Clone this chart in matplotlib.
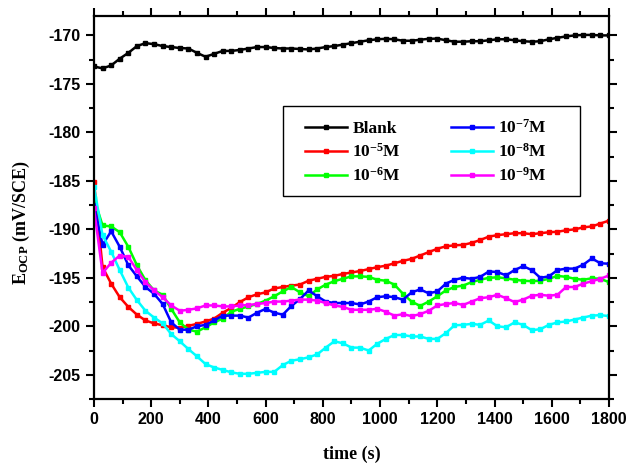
import numpy as np
import matplotlib
matplotlib.use('Agg')
import matplotlib.pyplot as plt
from matplotlib.patches import Rectangle

plt.rcParams['axes.unicode_minus'] = False
plt.rcParams['mathtext.fontset'] = 'custom'
plt.rcParams['mathtext.rm'] = 'Liberation Serif'
plt.rcParams['mathtext.bf'] = 'Liberation Serif:bold'

# sampling time (s), one point every 30 s
time = np.arange(0, 1801, 30)

blank = [-173.2, -173.4, -173.1, -172.4, -171.8, -171.1, -170.8, -170.9, -171.1, -171.2,
         -171.3, -171.35, -171.8, -172.2, -171.9, -171.6, -171.6, -171.5, -171.35, -171.2,
         -171.2, -171.3, -171.35, -171.35, -171.4, -171.45, -171.35, -171.2, -171.1, -170.95,
         -170.8, -170.65, -170.5, -170.4, -170.35, -170.4, -170.55, -170.55, -170.45, -170.35,
         -170.33, -170.5, -170.65, -170.65, -170.6, -170.6, -170.5, -170.4, -170.4, -170.5,
         -170.6, -170.65, -170.6, -170.4, -170.25, -170.1, -170.0, -169.95, -169.95, -170.0,
         -170.0]

c_1e5 = [-185.1, -193.9, -195.6, -197.0, -198.0, -198.8, -199.4, -199.7, -199.9, -200.1,
         -200.15, -199.95, -199.75, -199.5, -199.2, -198.6, -198.1, -197.5, -197.0, -196.7,
         -196.5, -196.1, -195.95, -195.8, -195.7, -195.3, -195.1, -194.9, -194.8, -194.6,
         -194.45, -194.3, -194.1, -193.9, -193.75, -193.5, -193.25, -193.05, -192.7, -192.35,
         -192.0, -191.75, -191.65, -191.6, -191.4, -191.1, -190.75, -190.6, -190.5, -190.4,
         -190.4, -190.5, -190.4, -190.3, -190.25, -190.1, -190.0, -189.8, -189.7, -189.4,
         -189.1]

c_1e6 = [-186.8, -189.6, -189.7, -190.3, -191.8, -193.7, -195.25, -196.3, -196.75, -198.2,
         -199.6, -200.35, -200.55, -200.1, -199.6, -199.2, -198.5, -198.2, -197.95, -197.7,
         -197.35, -196.9, -196.4, -195.95, -196.5, -196.9, -196.2, -195.7, -195.35, -195.1,
         -194.85, -194.85, -194.9, -195.2, -195.3, -195.7, -196.65, -197.45, -197.9, -197.45,
         -196.9, -196.3, -195.95, -195.8, -195.45, -195.2, -195.0, -194.95, -195.05, -195.2,
         -195.3, -195.35, -195.3, -195.1, -194.8, -194.9, -195.1, -195.2, -195.05, -195.1,
         -195.45]

c_1e7 = [-187.5, -191.6, -190.2, -191.8, -193.7, -194.85, -195.95, -196.65, -197.7, -199.6,
         -200.35, -200.35, -200.0, -199.85, -199.4, -198.9, -198.9, -198.9, -199.1, -198.6,
         -198.2, -198.6, -198.8, -197.9, -197.2, -196.3, -196.9, -197.45, -197.6, -197.6,
         -197.6, -197.75, -197.45, -197.0, -196.9, -197.0, -197.25, -196.5, -196.2, -196.6,
         -196.4, -195.6, -195.2, -195.0, -195.1, -194.9, -194.35, -194.4, -194.75, -194.2,
         -193.8, -194.2, -195.0, -194.85, -194.2, -194.05, -194.05, -193.65, -193.0, -193.5,
         -193.55]

c_1e8 = [-185.6, -190.6, -192.3, -194.2, -196.0, -197.3, -198.4, -199.1, -199.7, -200.8,
         -201.55, -202.35, -203.1, -203.9, -204.25, -204.5, -204.75, -204.9, -204.9, -204.8,
         -204.7, -204.7, -204.0, -203.55, -203.4, -203.2, -202.9, -202.2, -201.55, -201.75,
         -202.2, -202.2, -202.5, -201.8, -201.3, -200.9, -200.9, -201.05, -201.05, -201.3,
         -201.3, -200.7, -199.9, -199.85, -199.75, -199.85, -199.4, -200.0, -200.1, -199.6,
         -199.85, -200.4, -200.3, -199.85, -199.6, -199.5, -199.3, -199.1, -198.9, -198.85,
         -198.95]

c_1e9 = [-187.85, -194.5, -193.45, -192.7, -192.85, -194.2, -195.45, -196.3, -197.0, -197.85,
         -198.4, -198.3, -198.15, -197.85, -197.85, -197.95, -197.95, -197.85, -197.8, -197.7,
         -197.6, -197.45, -197.45, -197.35, -197.25, -197.25, -197.35, -197.6, -197.85, -198.0,
         -198.3, -198.3, -198.3, -198.2, -198.5, -198.9, -198.75, -198.95, -198.75, -198.4,
         -197.85, -197.7, -197.6, -197.8, -197.45, -197.1, -197.0, -196.75, -197.1, -197.5,
         -197.25, -196.85, -196.75, -196.85, -196.75, -195.95, -195.95, -195.6, -195.35, -195.1,
         -194.75]

series = [blank, c_1e5, c_1e6, c_1e7, c_1e8, c_1e9]
labels = ['Blank', r'$\mathbf{10^{-5}M}$', r'$\mathbf{10^{-6}M}$',
          r'$\mathbf{10^{-7}M}$', r'$\mathbf{10^{-8}M}$', r'$\mathbf{10^{-9}M}$']
colors = ['#000000', '#ff0000', '#00ff00', '#0000ff', '#00ffff', '#ff00ff']

fig = plt.figure(figsize=(6.32, 4.63), dpi=100)
ax = fig.add_axes([0.1487, 0.1382, 0.8149, 0.8272])

for y, lab, col in zip(series, labels, colors):
    ax.plot(time, y, color=col, lw=1.8, marker='s', ms=3.5, label=lab)

ax.set_xlim(0, 1800)
ax.set_ylim(-207.5, -168)
ax.set_xticks(np.arange(0, 1801, 200))
ax.set_xticks(np.arange(0, 1801, 100), minor=True)
ax.set_yticks(np.arange(-205, -169, 5))
ax.set_yticks(np.arange(-207.5, -167.9, 2.5), minor=True)

for s in ax.spines.values():
    s.set_linewidth(1.6)
ax.tick_params(which='both', direction='out', top=True, right=True, width=1.5)
ax.tick_params(which='major', length=6)
ax.tick_params(which='minor', length=3.5)
for t in ax.get_xticklabels() + ax.get_yticklabels():
    t.set_fontfamily('Liberation Sans')
    t.set_fontweight('bold')
    t.set_fontsize(11.5)

ax.set_xlabel('time (s)', family='Liberation Serif', fontweight='bold', fontsize=13, labelpad=13)
ax.set_ylabel(r'$\mathbf{E_{OCP}}$ (mV/SCE)', family='Liberation Serif', fontweight='bold',
              fontsize=13)
ax.yaxis.set_label_coords(-0.12, 0.46)

ax.add_patch(Rectangle((0.367, 0.530), 0.577, 0.235, transform=ax.transAxes,
                       fill=False, lw=1.0, ec='black', zorder=5))
ax.legend(ncol=2, loc='center', bbox_to_anchor=(0.645, 0.645), frameon=False,
          borderpad=0, handlelength=2.4, handletextpad=0.3, columnspacing=2.9,
          labelspacing=0.35, prop={'family': 'Liberation Serif', 'weight': 'bold', 'size': 12.5})

fig.savefig('out.png', dpi=100)
